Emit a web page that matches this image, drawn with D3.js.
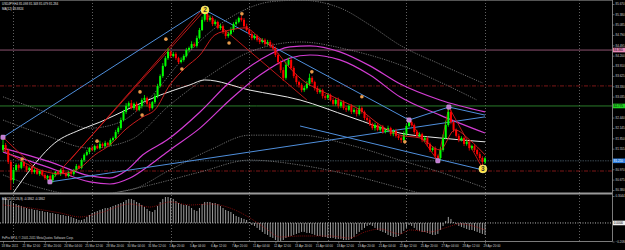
<!DOCTYPE html>
<html lang="en">
<head>
<meta charset="UTF-8">
<title>USDJPY,H4</title>
<style>
  body { margin: 0; background: #000; }
  svg { display: block; font-family: "Liberation Sans", Arial, sans-serif; }
  .axis text { fill: #d0d0d0; font-size: 3px; }
  .axis path, .axis line { stroke: #9a9a9a; stroke-width: 0.6; }
</style>
</head>
<body>
<svg id="chart" width="625" height="250"></svg>
<script src="https://d3js.org/d3.v7.min.js"></script>
<script>
// ---- data (H4 bars, 18 Mar 2011 .. 29 Apr 2011) ----
const firstOpen = 81.52;
const closes = [
  81.66, 81.52, 81.18, 80.66, 80.95, 81.09, 81.01, 81.18, 81.06, 80.95,
  81.01, 80.89, 80.95, 80.84, 80.92, 80.81, 80.72, 80.78, 80.66, 80.81,
  80.89, 80.84, 80.95, 80.86, 80.78, 80.89, 80.84, 80.95, 81.06, 81.01,
  81.23, 81.38, 81.46, 81.57, 81.52, 81.63, 81.57, 81.69, 81.63, 81.72,
  81.66, 81.80, 81.86, 82.03, 82.14, 82.37, 82.60, 82.77, 82.85, 82.71,
  82.83, 82.66, 82.77, 82.94, 83.00, 82.83, 82.71, 82.88, 83.05, 83.34,
  83.62, 83.91, 84.13, 84.31, 84.19, 84.25, 84.13, 84.02, 84.08, 84.19,
  84.36, 84.42, 84.53, 84.48, 84.70, 84.93, 85.22, 85.39, 85.22, 85.27,
  85.10, 85.16, 84.99, 85.04, 84.87, 84.76, 84.82, 84.93, 85.10, 85.16,
  85.27, 85.22, 85.04, 84.93, 84.82, 84.70, 84.76, 84.65, 84.59, 84.65,
  84.53, 84.59, 84.48, 84.42, 84.22, 84.02, 83.79, 83.57, 83.94, 84.08,
  83.85, 83.62, 83.45, 83.37, 83.22, 83.28, 83.40, 83.57, 83.45, 83.28,
  83.17, 83.22, 83.05, 83.00, 83.08, 82.94, 82.83, 82.94, 82.77, 82.88,
  82.71, 82.66, 82.77, 82.60, 82.66, 82.54, 82.71, 82.60, 82.43, 82.37,
  82.26, 82.14, 82.23, 82.09, 82.17, 82.03, 82.09, 82.14, 81.97, 82.06,
  81.92, 81.86, 81.80, 81.97, 82.20, 82.31, 82.23, 82.03, 81.92, 81.97,
  81.80, 81.86, 81.69, 81.52, 81.57, 81.35, 81.29, 81.52, 81.86, 82.23,
  82.60, 82.31, 82.09, 81.92, 81.80, 81.86, 81.69, 81.75, 81.57, 81.63,
  81.52, 81.40, 81.29, 81.18, 81.28
];
// wick lengths above / below the body, in hundredths of a yen
const wickHi = [
  23,6,4,5,8,5,4,6,3,5, 4,3,5,6,2,4,5,3,4,6, 3,5,4,6,3,4,5,3,6,4,
  5,4,6,3,8,4,5,9,4,6, 3,5,4,6,5,7,6,8,5,9, 4,6,3,5,8,4,6,3,7,6,
  5,8,6,10,4,6,5,4,7,5, 6,4,8,5,7,6,9,14,6,8, 5,7,4,6,5,4,6,8,5,7,
  4,6,5,7,4,6,5,4,6,5, 4,6,5,7,4,6,5,8,10,6, 4,5,6,4,5,6,8,12,5,4,
  6,5,4,6,5,4,6,5,7,4, 5,6,4,5,6,4,7,5,4,6, 5,4,6,5,4,6,5,7,4,5,
  6,4,5,8,6,10,5,4,6,5, 4,6,5,4,6,5,4,8,10,12, 14,6,5,4,6,5,4,6,5,4,
  5,4,6,5,4
];
const wickLo = [
  6,5,6,28,8,5,6,4,5,6, 4,6,5,3,6,4,5,6,5,7, 5,4,6,3,5,4,6,5,4,3,
  4,5,3,6,4,5,3,4,6,5, 4,3,5,4,6,5,4,6,5,4, 6,5,4,7,5,8,9,4,5,6,
  4,5,3,5,6,4,5,6,4,5, 4,5,3,4,5,4,3,5,6,5, 6,5,4,6,5,8,5,4,6,5,
  4,5,6,4,5,6,4,5,6,4, 5,4,6,5,6,7,8,9,5,4, 5,6,7,8,6,5,4,6,5,7,
  6,5,7,6,5,4,6,5,7,6, 5,6,4,6,5,7,4,5,6,5, 6,5,7,4,6,5,4,7,5,6,
  5,6,8,5,6,4,5,6,5,4, 6,5,7,6,5,8,11,6,5,4, 5,6,7,5,6,4,6,5,7,5,
  6,5,7,17,6
];
const macd = [
  0.282, 0.271, 0.259, 0.248, 0.225, 0.214, 0.203, 0.192, 0.180, 0.169,
  0.158, 0.158, 0.147, 0.147, 0.135, 0.135, 0.124, 0.124, 0.113, 0.113,
  0.101, 0.101, 0.090, 0.090, 0.079, 0.079, 0.068, 0.056, 0.045, 0.034,
  0.034, 0.045, 0.068, 0.090, 0.113, 0.124, 0.135, 0.147, 0.158, 0.169,
  0.169, 0.180, 0.192, 0.203, 0.214, 0.225, 0.237, 0.259, 0.271, 0.271,
  0.259, 0.237, 0.225, 0.203, 0.180, 0.158, 0.135, 0.124, 0.147, 0.192,
  0.237, 0.271, 0.293, 0.293, 0.282, 0.271, 0.248, 0.225, 0.214, 0.203,
  0.203, 0.192, 0.169, 0.147, 0.135, 0.169, 0.214, 0.237, 0.237, 0.237,
  0.225, 0.225, 0.214, 0.192, 0.169, 0.147, 0.135, 0.124, 0.101, 0.079,
  0.068, 0.056, 0.045, 0.034, 0.011, -0.023, -0.034, -0.056, -0.079, -0.101,
  -0.124, -0.135, -0.158, -0.169, -0.192, -0.214, -0.203, -0.192, -0.169, -0.158,
  -0.147, -0.135, -0.124, -0.113, -0.101, -0.101, -0.113, -0.113, -0.124, -0.135,
  -0.147, -0.147, -0.158, -0.158, -0.169, -0.169, -0.169, -0.180, -0.180, -0.180,
  -0.192, -0.192, -0.192, -0.180, -0.158, -0.124, -0.101, -0.079, -0.056, -0.034,
  -0.023, -0.034, -0.056, -0.079, -0.090, -0.101, -0.113, -0.135, -0.147, -0.158,
  -0.158, -0.147, -0.124, -0.090, -0.056, -0.023, -0.034, -0.056, -0.079, -0.090,
  -0.101, -0.101, -0.113, -0.124, -0.135, -0.135, -0.124, -0.079, -0.034, 0.023,
  0.068, 0.045, 0.011, -0.011, -0.034, -0.045, -0.056, -0.068, -0.079, -0.079,
  -0.090, -0.101, -0.113, -0.124, -0.135
];
const macdSignal = [
  [0, 0.203], [10.3, 0.169], [21.8, 0.113], [29.4, 0.068], [37, 0.113], [48.5, 0.214],
  [56.1, 0.180], [63.7, 0.237], [71.4, 0.203], [79, 0.214], [88.5, 0.147], [94.3, 0.056],
  [100, -0.056], [105.7, -0.158], [113.4, -0.147], [124.8, -0.147], [132.4, -0.169],
  [138.2, -0.101], [143.9, -0.068], [151.5, -0.124], [155.3, -0.079], [163, -0.101],
  [168.7, -0.056], [174.4, -0.011], [184, -0.079]
];

const timeLabels = [
  "18 Mar 2011", "21 Mar 12:00", "22 Mar 20:00", "24 Mar 04:00", "25 Mar 12:00",
  "28 Mar 20:00", "30 Mar 04:00", "31 Mar 12:00", "1 Apr 20:00", "5 Apr 04:00",
  "6 Apr 12:00", "7 Apr 20:00", "11 Apr 04:00", "12 Apr 12:00", "13 Apr 20:00",
  "15 Apr 04:00", "18 Apr 12:00", "19 Apr 20:00", "21 Apr 04:00", "22 Apr 12:00",
  "25 Apr 20:00", "27 Apr 04:00", "28 Apr 12:00", "29 Apr 20:00"
];
const barsPerLabel = 8;
const gridBars = [4, 34, 64, 94, 124, 154, 184, 220];
const priceTicks = [85.670, 85.380, 85.085, 84.790, 84.495, 84.200, 83.910, 83.625, 83.330,
  83.035, 82.740, 82.440, 82.145, 81.850, 81.555, 81.260, 80.970, 80.675, 80.380];
const macdTicks = [0.3044, -0.2092];

// indicator lines as [bar, price]
const maWhite = [[3.4, 80.24], [10.3, 80.95], [19.8, 81.72], [29.4, 82.09], [37, 82.31],
  [48.5, 82.71], [60, 83.08], [71.4, 83.37], [77, 83.51], [94.3, 83.22], [113.4, 82.94],
  [132.4, 82.46], [151.5, 82.00], [166.8, 81.86], [184, 81.75]];
const maMagentaA = [[0, 81.57], [17.9, 81.18], [33.2, 80.78], [40.8, 80.72], [47.3, 80.95],
  [53.4, 81.38], [62.6, 81.80], [75.2, 82.60], [86.6, 83.45], [98.1, 84.08], [109.5, 84.45],
  [117.2, 84.48], [128.6, 84.31], [140.1, 83.91], [151.5, 83.40], [166.8, 82.94], [184, 82.60]];
const maMagentaB = [[0, 81.46], [17.9, 81.01], [33.2, 80.61], [40.8, 80.55], [48.5, 80.72],
  [56.1, 81.09], [63.7, 81.52], [75.2, 82.14], [86.6, 82.94], [98.1, 83.65], [109.5, 84.13],
  [117.2, 84.22], [128.6, 84.08], [140.1, 83.65], [151.5, 83.03], [166.8, 82.51], [184, 82.00]];
const maRed = [[0, 81.52], [6.5, 81.23], [14.1, 80.95], [21.8, 80.84], [29.4, 81.01],
  [35.1, 81.38], [40.8, 81.66], [46.6, 82.09], [53.4, 82.46], [58, 82.66], [63.7, 83.37],
  [69.5, 83.85], [75.2, 84.22], [80.9, 84.79], [86.6, 84.93], [92.4, 84.99], [98.1, 84.70],
  [103.8, 84.36], [109.5, 83.85], [115.3, 83.45], [121, 83.22], [128.6, 82.94], [136.3, 82.66],
  [143.9, 82.23], [151.5, 81.94], [159.2, 81.86], [166.8, 81.52], [172.5, 82.09],
  [178.2, 81.80], [184, 81.38]];
const bands = [
  [[0, 83.03], [16, 82.60], [33.2, 82.14], [44.7, 82.31], [56.1, 83.00], [67.6, 84.02],
   [79, 84.87], [90.5, 85.44], [101.9, 85.73], [113.4, 85.78], [128.6, 85.56], [140.1, 85.07],
   [151.5, 84.50], [166.8, 83.96], [183.2, 83.42]],
  [[0, 82.37], [16, 81.94], [33.2, 81.57], [48.5, 81.80], [63.7, 82.80], [79, 83.65],
   [94.3, 84.31], [113.4, 84.59], [132.4, 84.36], [151.5, 83.94], [166.8, 83.45], [180.9, 82.94]],
  [[0, 80.81], [14.1, 80.44], [29.4, 80.24], [48.5, 80.38], [63.7, 80.95], [79, 81.52],
   [94.3, 81.94], [113.4, 81.94], [132.4, 81.66], [151.5, 81.23], [166.8, 80.89], [184, 80.44]],
  [[37, 80.21], [56.1, 80.52], [75.2, 80.89], [94.3, 81.23], [113.4, 81.09], [132.4, 80.81],
   [151.5, 80.44], [163, 80.21]]
];
const blueLines = [
  [[0, 81.88], [77.1, 85.56]],
  [[77.1, 85.50], [155, 82.37]],
  [[17.9, 80.61], [184, 82.46]],
  [[155, 82.37], [170.2, 82.74], [184, 82.51]],
  [[113.4, 82.20], [183.2, 80.95]]
];
const redLines = [
  [[0, 81.88], [17.9, 80.61], [77.1, 85.50]],
  [[155, 82.37], [166, 81.21], [170.2, 82.74], [183.2, 80.98]],
  [[25.6, 81.23], [75.2, 85.44]],
  [[77.9, 85.36], [116, 82.94]]
];
const fractals = [[7.3, 81.26], [35.9, 81.77], [52.3, 83.17], [53.1, 82.51], [62.2, 84.67],
  [68.3, 83.82], [86.3, 84.56], [91.2, 85.39], [117.9, 83.74], [137, 83.03], [153.4, 81.75]];
const swingMarks = [[0, 81.88], [17.9, 80.61], [155, 82.37], [166, 81.21], [170.2, 82.74]];
const waveLabels = [{ bar: 77.1, price: 85.50, text: "2" }, { bar: 183.2, price: 80.98, text: "3" }];
const levels = [
  { price: 84.36, color: "#9a5a7a", dash: null, tag: "84.365", tagFill: "#e88ab8" },
  { price: 83.34, color: "#8a1a1a", dash: "4,1.5,1,1.5", tag: null },
  { price: 82.77, color: "#2f8a2f", dash: null, tag: "82.775", tagFill: "#22d022" },
  { price: 81.21, color: "#40505a", dash: "1.5,1", tag: "81.210", tagFill: "#2f7fe0" },
  { price: 80.92, color: "#8a1a1a", dash: "4,1.5,1,1.5", tag: null }
];

// ---- layout ----
const W = 625, H = 250;
const plotRight = 612, mainBottom = 192.5, macdTop = 195, macdBottom = 241;
const svg = d3.select("#chart");
const x = d3.scaleLinear().domain([0, 184]).range([3, 485]);
const y = d3.scaleLinear().domain([80.38, 85.67]).range([190, 4]);
const ym = d3.scaleLinear().domain([-0.2092, 0.3044]).range([241.5, 196]);

svg.append("rect").attr("width", W).attr("height", H).attr("fill", "#000");

const defs = svg.append("defs");
defs.append("clipPath").attr("id", "clipMain")
  .append("rect").attr("x", 0).attr("y", 0).attr("width", plotRight).attr("height", mainBottom);
defs.append("clipPath").attr("id", "clipMacd")
  .append("rect").attr("x", 0).attr("y", macdTop).attr("width", plotRight).attr("height", macdBottom - macdTop);

// vertical grid
svg.append("g").selectAll("line").data(gridBars).join("line")
  .attr("x1", d => Math.round(x(d)) + 0.5).attr("x2", d => Math.round(x(d)) + 0.5)
  .attr("y1", 0).attr("y2", macdBottom)
  .attr("stroke", "#8a8a8a").attr("stroke-width", 0.7).attr("stroke-dasharray", "1,2");

const main = svg.append("g").attr("clip-path", "url(#clipMain)");

// horizontal levels
main.selectAll("line.level").data(levels).join("line").attr("class", "level")
  .attr("x1", 0).attr("x2", plotRight)
  .attr("y1", d => y(d.price)).attr("y2", d => y(d.price))
  .attr("stroke", d => d.color).attr("stroke-width", 0.9)
  .attr("stroke-dasharray", d => d.dash);

const smooth = d3.line().x(d => x(d[0])).y(d => y(d[1])).curve(d3.curveMonotoneX);
const straight = d3.line().x(d => x(d[0])).y(d => y(d[1]));

main.selectAll("path.band").data(bands).join("path").attr("class", "band")
  .attr("d", smooth).attr("fill", "none")
  .attr("stroke", "#9a9a9a").attr("stroke-width", 0.7).attr("stroke-dasharray", "1.2,1.2");

main.append("path").attr("d", smooth(maWhite)).attr("fill", "none")
  .attr("stroke", "#e8e8e8").attr("stroke-width", 1);
[maMagentaA, maMagentaB].forEach(d => {
  main.append("path").attr("d", smooth(d)).attr("fill", "none")
    .attr("stroke", "#d23cd2").attr("stroke-width", 1.2);
});

main.selectAll("path.blue").data(blueLines).join("path").attr("class", "blue")
  .attr("d", straight).attr("fill", "none").attr("stroke", "#4f8fdc").attr("stroke-width", 1);
main.selectAll("path.red").data(redLines).join("path").attr("class", "red")
  .attr("d", straight).attr("fill", "none").attr("stroke", "#d01818").attr("stroke-width", 0.9);

// candles (each bar opens at the previous close)
const candles = closes.map((c, i) => {
  const o = i === 0 ? firstOpen : closes[i - 1];
  return { i, o, c, hi: Math.max(o, c) + wickHi[i] / 100, lo: Math.min(o, c) - wickLo[i] / 100 };
});
const candleG = main.append("g");
candleG.selectAll("line").data(candles).join("line")
  .attr("x1", d => x(d.i)).attr("x2", d => x(d.i))
  .attr("y1", d => y(d.hi)).attr("y2", d => y(d.lo))
  .attr("stroke", d => d.c >= d.o ? "#00ff00" : "#ff0000").attr("stroke-width", 0.8);
candleG.selectAll("rect").data(candles).join("rect")
  .attr("x", d => x(d.i) - 1).attr("width", 2)
  .attr("y", d => y(Math.max(d.o, d.c)))
  .attr("height", d => Math.max(0.8, Math.abs(y(d.o) - y(d.c))))
  .attr("fill", d => d.c >= d.o ? "#00ff00" : "#ff0000");

main.append("path").attr("d", smooth(maRed)).attr("fill", "none")
  .attr("stroke", "#e02020").attr("stroke-width", 0.9);

// markers
main.selectAll("circle.fr").data(fractals).join("circle").attr("class", "fr")
  .attr("cx", d => x(d[0])).attr("cy", d => y(d[1])).attr("r", 1.8).attr("fill", "#e89a4a");
main.selectAll("rect.sw").data(swingMarks).join("rect").attr("class", "sw")
  .attr("x", d => x(d[0]) - 2.2).attr("y", d => y(d[1]) - 2.2)
  .attr("width", 4.4).attr("height", 4.4).attr("rx", 1)
  .attr("fill", "#c07ad0").attr("stroke", "#e0b0f0").attr("stroke-width", 0.4);
const wave = main.selectAll("g.wave").data(waveLabels).join("g").attr("class", "wave")
  .attr("transform", d => `translate(${x(d.bar)},${y(d.price)})`);
wave.append("circle").attr("r", 4).attr("fill", "#ffe23a").attr("stroke", "#fff7a0").attr("stroke-width", 0.6);
wave.append("text").attr("text-anchor", "middle").attr("dy", 2.3).attr("font-size", 6.5)
  .attr("font-weight", "bold").attr("fill", "#333").text(d => d.text);

// MACD panel
const macdG = svg.append("g").attr("clip-path", "url(#clipMacd)");
macdG.append("line").attr("x1", 0).attr("x2", plotRight).attr("y1", ym(0)).attr("y2", ym(0))
  .attr("stroke", "#e0e0e0").attr("stroke-width", 0.8).attr("stroke-dasharray", "1,1.5");
macdG.selectAll("line.h").data(macd).join("line").attr("class", "h")
  .attr("x1", (d, i) => x(i)).attr("x2", (d, i) => x(i))
  .attr("y1", ym(0)).attr("y2", d => ym(d))
  .attr("stroke", "#c8c8c8").attr("stroke-width", 0.8);
macdG.append("path").attr("d", d3.line().x(d => x(d[0])).y(d => ym(d[1])).curve(d3.curveMonotoneX)(macdSignal))
  .attr("fill", "none").attr("stroke", "#b01010").attr("stroke-width", 0.7).attr("stroke-dasharray", "1,1");

// frame
svg.append("rect").attr("x", 0).attr("y", mainBottom).attr("width", plotRight).attr("height", 2).attr("fill", "#9a9a9a");
svg.append("line").attr("x1", 0).attr("x2", plotRight + 0.5).attr("y1", macdBottom + 0.5).attr("y2", macdBottom + 0.5)
  .attr("stroke", "#9a9a9a").attr("stroke-width", 0.8);
svg.append("line").attr("x1", plotRight + 0.5).attr("x2", plotRight + 0.5).attr("y1", 0).attr("y2", macdBottom + 0.5)
  .attr("stroke", "#9a9a9a").attr("stroke-width", 0.8);
svg.append("line").attr("x1", 0).attr("x2", plotRight).attr("y1", 0.5).attr("y2", 0.5)
  .attr("stroke", "#6a6a6a").attr("stroke-width", 0.8);

// value tags on the price scale; the scale labels they cover are left out
const tags = levels.filter(d => d.tag);
const freeTicks = priceTicks.filter(t => tags.every(d => Math.abs(y(t) - y(d.price)) > 4));

svg.append("g").attr("class", "axis").attr("transform", `translate(${plotRight + 0.5},0)`)
  .call(d3.axisRight(y).tickValues(freeTicks).tickFormat(d3.format(".3f")).tickSize(2).tickPadding(1))
  .call(g => g.select(".domain").remove());
svg.append("g").attr("class", "axis").attr("transform", `translate(${plotRight + 0.5},0)`)
  .call(d3.axisRight(ym).tickValues(macdTicks).tickFormat(d3.format(".4f")).tickSize(2).tickPadding(1))
  .call(g => g.select(".domain").remove());
svg.append("g").attr("class", "axis").attr("transform", `translate(0,${macdBottom + 0.5})`)
  .call(d3.axisBottom(x).tickValues(timeLabels.map((t, k) => k * barsPerLabel))
    .tickFormat((d, k) => timeLabels[k]).tickSize(2).tickPadding(1))
  .call(g => g.select(".domain").remove())
  .call(g => g.selectAll("text").attr("text-anchor", "start").attr("dx", -2));

svg.selectAll("rect.tag").data(tags).join("rect").attr("class", "tag")
  .attr("x", plotRight + 1).attr("y", d => y(d.price) - 2.3).attr("width", 12).attr("height", 4.6)
  .attr("fill", d => d.tagFill);
svg.selectAll("text.tag").data(tags).join("text").attr("class", "tag")
  .attr("x", plotRight + 1.8).attr("y", d => y(d.price) + 1.1).attr("font-size", 3)
  .attr("fill", d => d.tagFill === "#2f7fe0" ? "#fff" : "#000").text(d => d.tag);
svg.append("rect").attr("x", plotRight + 1).attr("y", ym(0) - 2.3).attr("width", 12).attr("height", 4.6).attr("fill", "#f0f0f0");
svg.append("text").attr("x", plotRight + 1.8).attr("y", ym(0) + 1.1).attr("font-size", 3).attr("fill", "#000").text("0.0000");

// captions
svg.append("text").attr("x", 2).attr("y", 5).attr("font-size", 3).attr("fill", "#e0e0e0")
  .text("USDJPY,H4  81.098 81.348 81.079 81.284");
svg.append("text").attr("x", 2).attr("y", 9.5).attr("font-size", 3).attr("fill", "#e0e0e0")
  .text("MA(12)  83.8824");
svg.append("text").attr("x", 2).attr("y", 199.5).attr("font-size", 3).attr("fill", "#e0e0e0")
  .text("MACD(12,26,9) -0.1862 -0.1862");
svg.append("text").attr("x", 2).attr("y", 239).attr("font-size", 3).attr("fill", "#d0d0d0")
  .text("FxPro MT4, © 2001-2011 MetaQuotes Software Corp.");
</script>
</body>
</html>
